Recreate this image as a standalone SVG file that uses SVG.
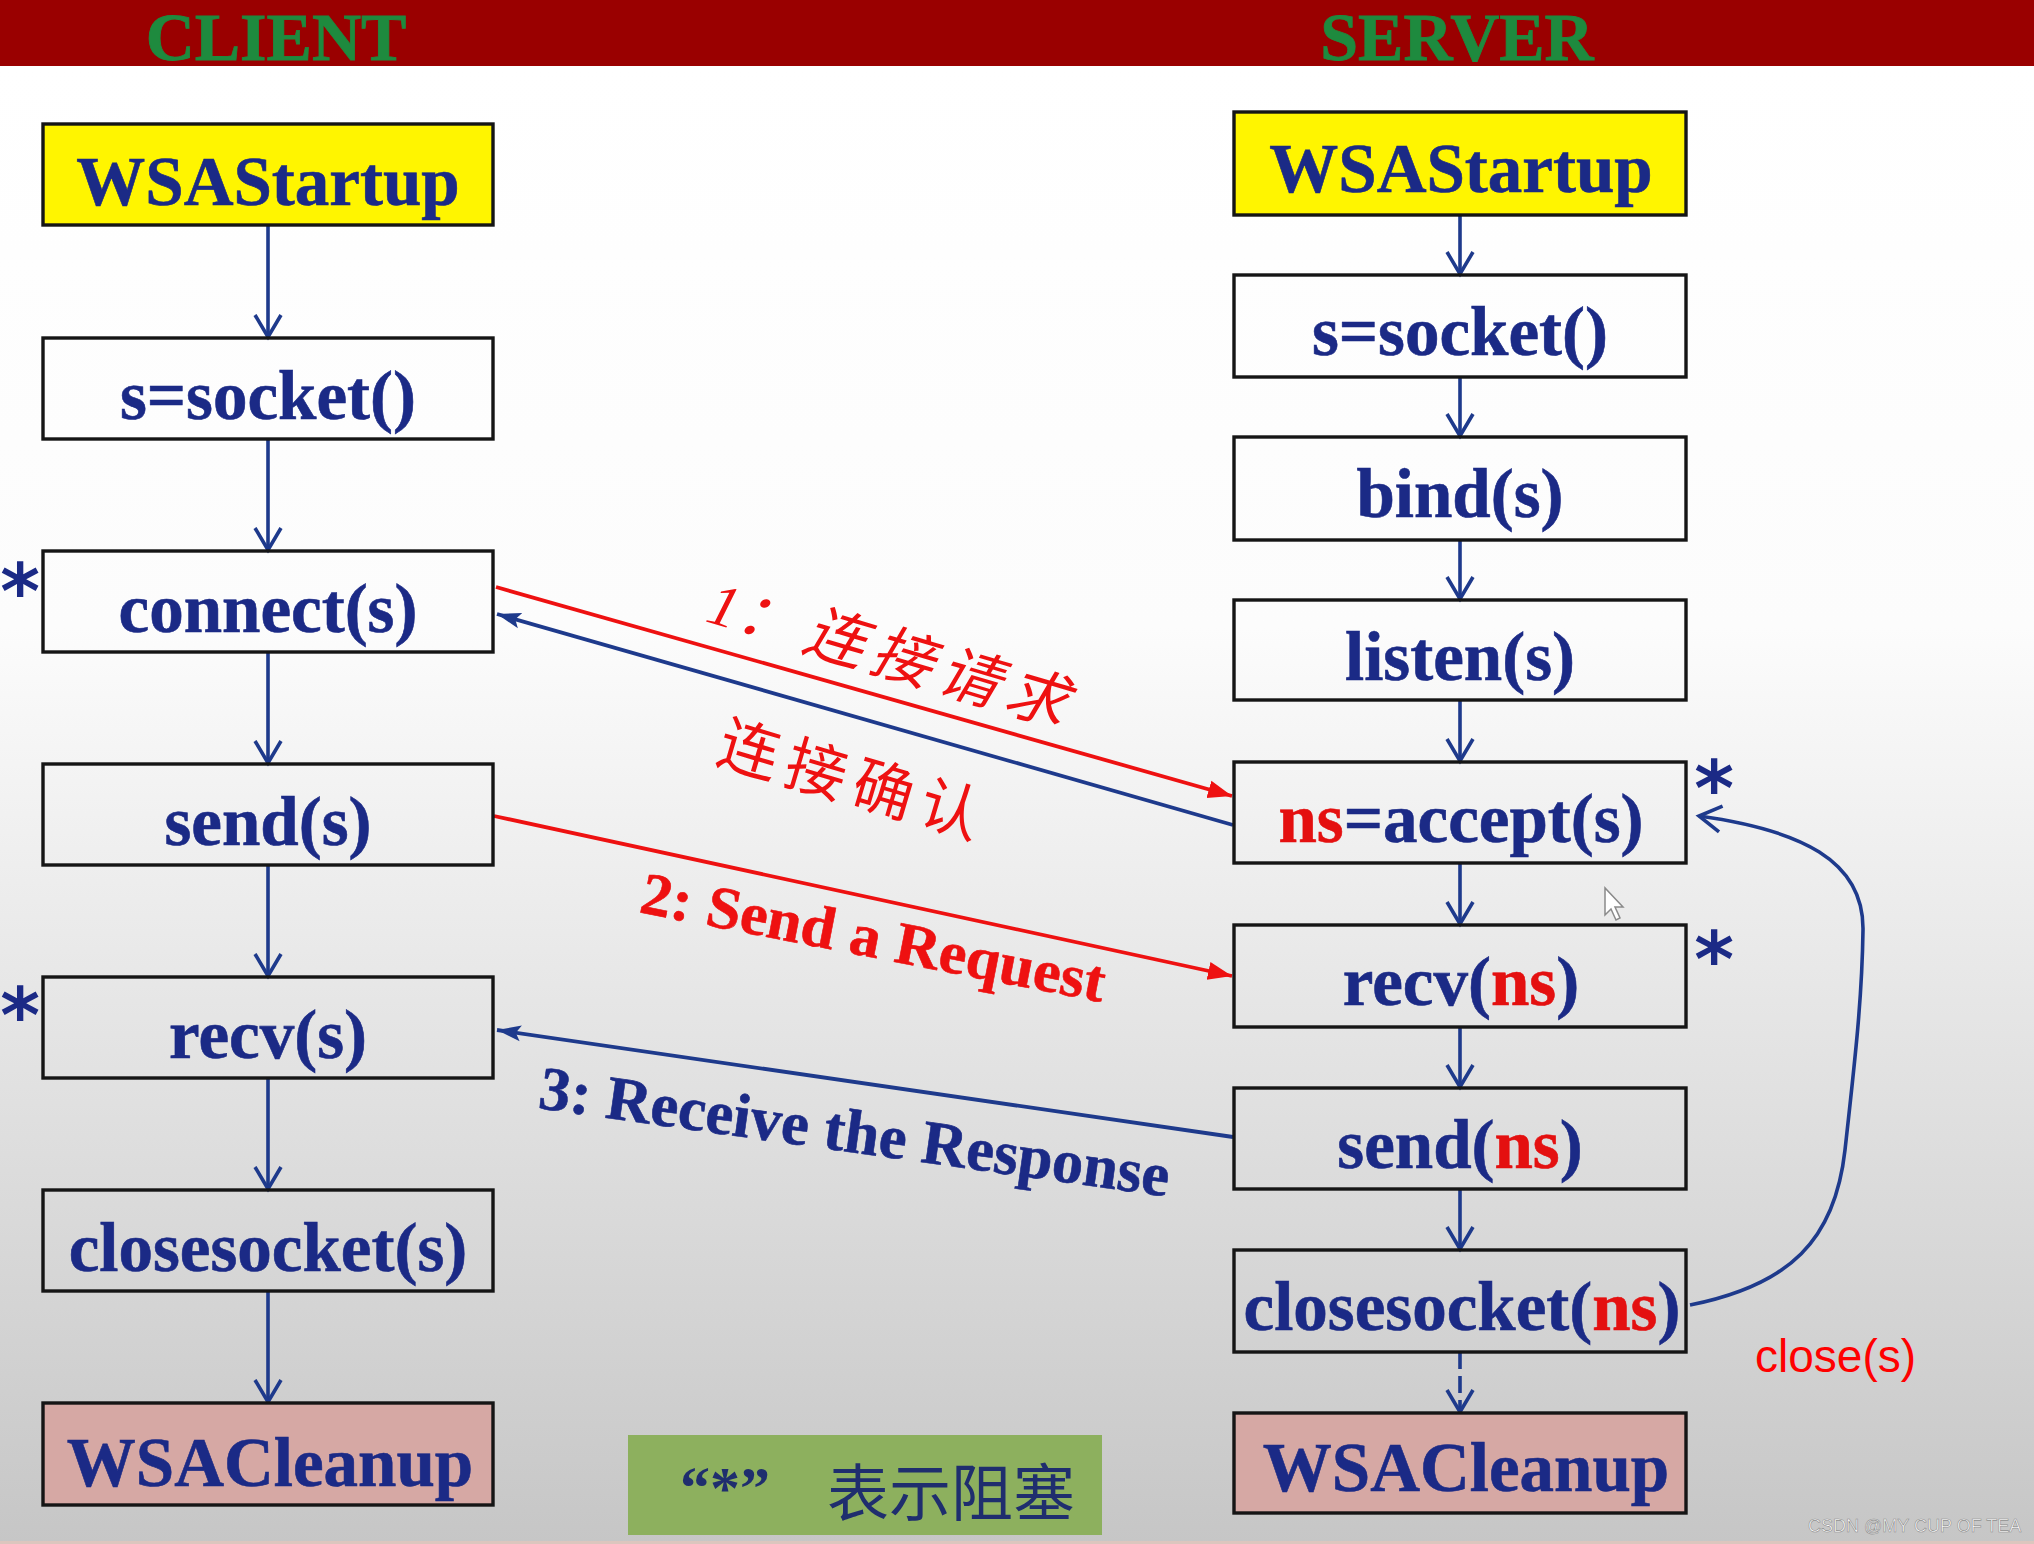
<svg xmlns="http://www.w3.org/2000/svg" width="2034" height="1544" viewBox="0 0 2034 1544">
<defs>
<linearGradient id="bg" x1="0" y1="66" x2="0" y2="1544" gradientUnits="userSpaceOnUse">
<stop offset="0" stop-color="#FFFFFF"/>
<stop offset="0.38" stop-color="#FCFCFC"/>
<stop offset="1" stop-color="#C6C6C6"/>
</linearGradient>
<marker id="vopen" viewBox="0 0 30 30" refX="25" refY="15" markerWidth="30" markerHeight="30" markerUnits="userSpaceOnUse" orient="auto">
<path d="M3,2 L25,15 L3,28" fill="none" stroke="#1E3A8C" stroke-width="3.6"/>
</marker>
<marker id="redhead" viewBox="0 0 24 20" refX="24" refY="10" markerWidth="24" markerHeight="20" markerUnits="userSpaceOnUse" orient="auto">
<path d="M0,1 L24,10 L0,19 z" fill="#EE1111"/>
</marker>
<marker id="bluebarb" viewBox="0 0 24 20" refX="24" refY="10" markerWidth="24" markerHeight="20" markerUnits="userSpaceOnUse" orient="auto">
<path d="M0,2 L24,10 L0,18 L5,10 z" fill="#1E3A8C"/>
</marker>
</defs>
<style>
.box{fill:none;stroke:#151515;stroke-width:3.4}
.yel{fill:#FFF500}
.pink{fill:#D6A8A4}
.lbl{font-family:"Liberation Serif","Times New Roman",serif;font-weight:bold;font-size:69px;fill:#1B2A86;text-anchor:middle;stroke:#1B2A86;stroke-width:0.6}
.red{fill:#E41010;stroke:#E41010}
.hdr{font-family:"Liberation Serif","Times New Roman",serif;font-weight:bold;font-size:68px;fill:#1E8A3E;text-anchor:middle;stroke:#1E8A3E;stroke-width:0.8}
.flow{fill:none;stroke:#1E3A8C;stroke-width:3.6}
.rline{fill:none;stroke:#EE1111;stroke-width:3.8}
.bline{fill:none;stroke:#1E3A8C;stroke-width:3.8}
.star{font-family:"DejaVu Sans",sans-serif;font-weight:bold;font-size:76px;fill:#1B2A86;text-anchor:middle}
.cjk{font-family:"Noto Sans CJK SC",sans-serif;font-size:61px;fill:#EE1111;letter-spacing:9px}
</style>
<rect x="0" y="0" width="2034" height="1544" fill="url(#bg)"/>
<rect x="0" y="0" width="2034" height="66" fill="#9A0000"/>
<rect x="0" y="1541" width="2034" height="3" fill="#DCC6BE"/>
<text class="hdr" x="276" y="60">CLIENT</text>
<text class="hdr" x="1457" y="60">SERVER</text>

<g id="connectors">
<line class="flow" x1="268" y1="225" x2="268" y2="337" marker-end="url(#vopen)"/>
<line class="flow" x1="268" y1="439" x2="268" y2="550" marker-end="url(#vopen)"/>
<line class="flow" x1="268" y1="652" x2="268" y2="763" marker-end="url(#vopen)"/>
<line class="flow" x1="268" y1="865" x2="268" y2="976" marker-end="url(#vopen)"/>
<line class="flow" x1="268" y1="1079" x2="268" y2="1189" marker-end="url(#vopen)"/>
<line class="flow" x1="268" y1="1292" x2="268" y2="1402" marker-end="url(#vopen)"/>
<line class="flow" x1="1460" y1="215" x2="1460" y2="274" marker-end="url(#vopen)"/>
<line class="flow" x1="1460" y1="377" x2="1460" y2="436" marker-end="url(#vopen)"/>
<line class="flow" x1="1460" y1="540" x2="1460" y2="599" marker-end="url(#vopen)"/>
<line class="flow" x1="1460" y1="700" x2="1460" y2="761" marker-end="url(#vopen)"/>
<line class="flow" x1="1460" y1="863" x2="1460" y2="924" marker-end="url(#vopen)"/>
<line class="flow" x1="1460" y1="1027" x2="1460" y2="1087" marker-end="url(#vopen)"/>
<line class="flow" x1="1460" y1="1189" x2="1460" y2="1249" marker-end="url(#vopen)"/>
<line class="flow" x1="1460" y1="1352" x2="1460" y2="1412" stroke-dasharray="17 7" marker-end="url(#vopen)"/>
<line class="rline" x1="496" y1="587" x2="1232" y2="796" marker-end="url(#redhead)"/>
<line class="bline" x1="1233" y1="825" x2="497" y2="614" marker-end="url(#bluebarb)"/>
<line class="rline" x1="494" y1="816" x2="1232" y2="976" marker-end="url(#redhead)"/>
<line class="bline" x1="1233" y1="1137" x2="497" y2="1030" marker-end="url(#bluebarb)"/>
<path class="flow" d="M1690,1305 C1790,1285 1835,1240 1845,1150 C1855,1060 1862,1000 1863,930 C1864,860 1800,830 1699,816" marker-end="url(#vopen)"/>
</g>

<g id="c-wsastartup"><rect class="box yel" x="43" y="124" width="450" height="101"/><text class="lbl" x="268" y="205">WSAStartup</text></g>
<g id="c-socket"><rect class="box" x="43" y="338" width="450" height="101"/><text class="lbl" x="268" y="419">s=socket()</text></g>
<g id="c-connect"><rect class="box" x="43" y="551" width="450" height="101"/><text class="lbl" x="268" y="632">connect(s)</text></g>
<g id="c-send"><rect class="box" x="43" y="764" width="450" height="101"/><text class="lbl" x="268" y="845">send(s)</text></g>
<g id="c-recv"><rect class="box" x="43" y="977" width="450" height="101"/><text class="lbl" x="268" y="1058">recv(s)</text></g>
<g id="c-closesocket"><rect class="box" x="43" y="1190" width="450" height="101"/><text class="lbl" x="268" y="1271">closesocket(s)</text></g>
<g id="c-wsacleanup"><rect class="box pink" x="43" y="1403" width="450" height="102"/><text class="lbl" x="270" y="1486">WSACleanup</text></g>

<g id="s-wsastartup"><rect class="box yel" x="1234" y="112" width="452" height="103"/><text class="lbl" x="1461" y="192">WSAStartup</text></g>
<g id="s-socket"><rect class="box" x="1234" y="275" width="452" height="102"/><text class="lbl" x="1460" y="355">s=socket()</text></g>
<g id="s-bind"><rect class="box" x="1234" y="437" width="452" height="103"/><text class="lbl" x="1460" y="517">bind(s)</text></g>
<g id="s-listen"><rect class="box" x="1234" y="600" width="452" height="100"/><text class="lbl" x="1460" y="680">listen(s)</text></g>
<g id="s-accept"><rect class="box" x="1234" y="762" width="452" height="101"/><text class="lbl" x="1461" y="842"><tspan class="red">ns</tspan>=accept(s)</text></g>
<g id="s-recv"><rect class="box" x="1234" y="925" width="452" height="102"/><text class="lbl" x="1461" y="1005">recv(<tspan class="red">ns</tspan>)</text></g>
<g id="s-send"><rect class="box" x="1234" y="1088" width="452" height="101"/><text class="lbl" x="1460" y="1168">send(<tspan class="red">ns</tspan>)</text></g>
<g id="s-closesocket"><rect class="box" x="1234" y="1250" width="452" height="102"/><text class="lbl" x="1462" y="1330">closesocket(<tspan class="red">ns</tspan>)</text></g>
<g id="s-wsacleanup"><rect class="box pink" x="1234" y="1413" width="452" height="100"/><text class="lbl" x="1466" y="1491">WSACleanup</text></g>

<g id="stars">
<text class="star" x="20" y="618">*</text>
<text class="star" x="20" y="1042">*</text>
<text class="star" x="1714" y="815">*</text>
<text class="star" x="1714" y="986">*</text>
</g>

<g id="labels">
<text transform="translate(704,621) rotate(16.5)" font-family="Liberation Serif, serif" font-style="italic" font-size="60" fill="#EE1111">1<tspan class="cjk">：连接请求</tspan></text>
<text class="cjk" transform="translate(714,762) rotate(16.5)">连接确认</text>
<text transform="translate(638,912) rotate(11)" font-family="Liberation Serif, serif" font-weight="bold" font-size="60" fill="#EE1111" stroke="#EE1111" stroke-width="0.6" textLength="472" lengthAdjust="spacingAndGlyphs">2: Send a Request</text>
<text transform="translate(537,1108) rotate(8)" font-family="Liberation Serif, serif" font-weight="bold" font-size="62" fill="#1B2A86" stroke="#1B2A86" stroke-width="0.6" textLength="636" lengthAdjust="spacingAndGlyphs">3: Receive the Response</text>
<text x="1755" y="1372" font-family="Liberation Sans, Arial, sans-serif" font-size="46" fill="#FF0000">close(s)</text>
</g>

<g id="legend">
<rect x="628" y="1435" width="474" height="100" fill="#8DB05E"/>
<text x="680" y="1508" font-family="Liberation Serif, serif" font-weight="bold" font-size="60" fill="#1F2E6E">“*”</text>
<text x="827" y="1516" font-family="Noto Sans CJK SC, sans-serif" font-size="62" fill="#1F2E6E">表示阻塞</text>
</g>

<polygon id="cursor" points="1605,888 1605,915 1611,909 1616,920 1620,918 1615,907 1623,907" fill="#FFFFFF" stroke="#8A8A8A" stroke-width="1.5"/>
<text x="1808" y="1532" font-family="Liberation Sans, Arial, sans-serif" font-size="18" fill="#FFFFFF" stroke="#8C8C8C" stroke-width="0.6">CSDN @MY CUP OF TEA</text>
</svg>
